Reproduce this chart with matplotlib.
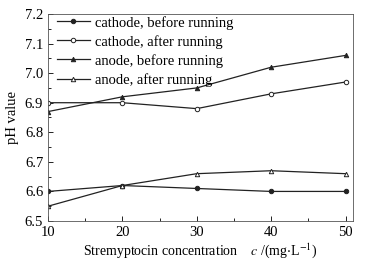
import matplotlib.pyplot as plt
from matplotlib.ticker import MultipleLocator

conc = [10, 20, 30, 40, 50]
cathode_before = [6.60, 6.62, 6.61, 6.60, 6.60]
cathode_after = [6.90, 6.90, 6.88, 6.93, 6.97]
anode_before = [6.87, 6.92, 6.95, 7.02, 7.06]
anode_after = [6.55, 6.62, 6.66, 6.67, 6.66]

plt.rcParams['font.family'] = ['Liberation Serif', 'DejaVu Serif']
plt.rcParams['mathtext.fontset'] = 'stix'

fig = plt.figure(figsize=(3.72, 2.64), dpi=100)
ax = fig.add_axes([48 / 372, 1 - 221 / 264, 305 / 372, 207 / 264])

kw = dict(color='#222222', linewidth=0.9, markersize=3.2, markeredgewidth=0.7)
ax.plot(conc, cathode_before, marker='o', mfc='#222222', label='cathode, before running', **kw)
ax.plot(conc, cathode_after, marker='o', mfc='white', label='cathode, after running', **kw)
ax.plot(conc, anode_before, marker='^', mfc='#222222', label='anode, before running', **kw)
ax.plot(conc, anode_after, marker='^', mfc='white', label='anode, after running', **kw)

ax.set_xlim(10, 51)
ax.set_ylim(6.5, 7.2)
ax.xaxis.set_major_locator(MultipleLocator(10))
ax.xaxis.set_minor_locator(MultipleLocator(5))
ax.yaxis.set_major_locator(MultipleLocator(0.1))
ax.yaxis.set_minor_locator(MultipleLocator(0.05))
ax.tick_params(which='both', direction='in', labelsize=10.5, width=0.6)
ax.tick_params(which='major', length=3.5)
ax.tick_params(which='minor', length=2)
for s in ax.spines.values():
    s.set_linewidth(0.6)
    s.set_color('#555555')

ax.set_ylabel('pH value', fontsize=10.5, labelpad=4)
ax.set_xlabel('Stremyptocin concentration    $c$ /(mg$\\cdot$L$^{-1}$)', fontsize=10, labelpad=2)

ax.legend(loc='upper left', bbox_to_anchor=(-0.015, 1.055), frameon=False, fontsize=10.5,
          handlelength=2.3, labelspacing=0.36, handletextpad=0.35)

fig.savefig('out.png', dpi=100)
